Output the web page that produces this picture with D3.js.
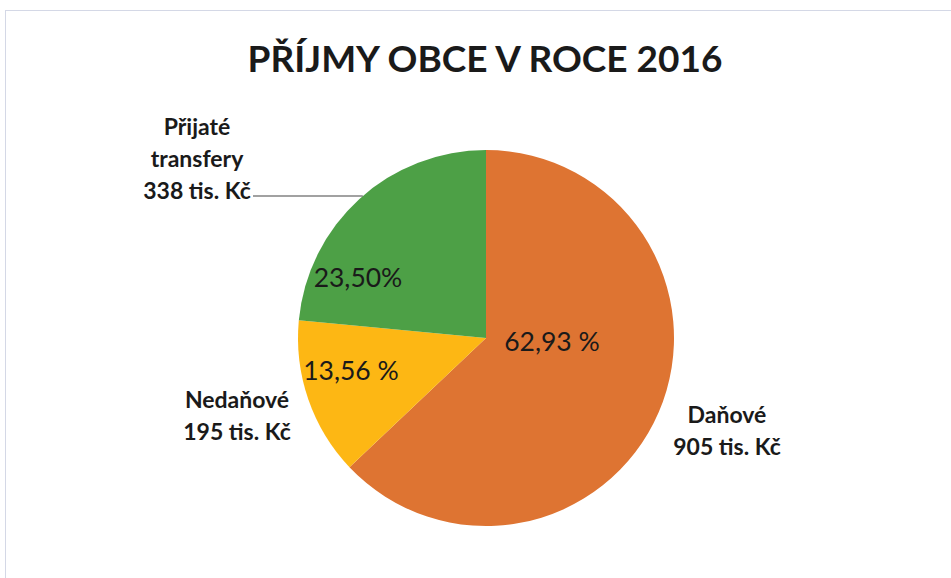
<!DOCTYPE html>
<html>
<head>
<meta charset="utf-8">
<script src="https://cdn.jsdelivr.net/npm/d3@7"></script>
<style>
  body { margin: 0; background: #fff; }
  text { font-family: Lato, "Open Sans", sans-serif; fill: #1a1a1a; }
</style>
</head>
<body>
<svg id="chart" width="951" height="578"></svg>
<script>
// data
const categories = ["Daňové", "Nedaňové", "Přijaté transfery"];
const amounts = [905, 195, 338];            // tis. Kč
const percentLabels = ["62,93 %", "13,56 %", "23,50%"];
const nameLines = [["Daňové", "905 tis. Kč"], ["Nedaňové", "195 tis. Kč"], ["Přijaté", "transfery", "338 tis. Kč"]];
const colors = ["#DE7432", "#FDB714", "#4DA046"];

const svg = d3.select("#chart");
const cx = 486, cy = 338, r = 188;

// faint scan border
svg.append("rect")
    .attr("x", 5.5).attr("y", 10.5)
    .attr("width", 960).attr("height", 600)
    .attr("fill", "none")
    .attr("stroke", "#d4d8e6")
    .attr("stroke-width", 1);

svg.append("text")
    .attr("x", 485).attr("y", 72)
    .attr("text-anchor", "middle")
    .style("font-size", "37px")
    .style("font-weight", "bold")
    .text("PŘÍJMY OBCE V ROCE 2016");

const pie = d3.pie().sort(null).value(d => d);
const arcs = pie(amounts);
const arc = d3.arc().innerRadius(0).outerRadius(r);

const g = svg.append("g").attr("transform", `translate(${cx},${cy})`);
g.selectAll("path.slice")
    .data(arcs)
    .join("path")
    .attr("class", "slice")
    .attr("d", arc)
    .attr("fill", (d, i) => colors[i]);

// percent labels inside the slices (layout offsets from centre)
const pctPos = [[66, 4], [-135, 33], [-128, -60]];
g.selectAll("text.pct")
    .data(arcs)
    .join("text")
    .attr("class", "pct")
    .attr("x", (d, i) => pctPos[i][0])
    .attr("y", (d, i) => pctPos[i][1])
    .attr("text-anchor", "middle")
    .attr("dy", "0.35em")
    .style("font-size", "26.5px")
    .text((d, i) => percentLabels[i]);

// category labels outside
const namePos = [[727, 415], [237, 400], [197, 127]];
categories.forEach((c, i) => {
    const t = svg.append("text")
        .attr("text-anchor", "middle")
        .style("font-size", "23px")
        .style("font-weight", "bold");
    nameLines[i].forEach((line, j) => {
        t.append("tspan")
            .attr("x", namePos[i][0])
            .attr("y", namePos[i][1] + j * 32)
            .attr("dy", "0.35em")
            .text(line);
    });
});

// leader line for the transfers label, ending on the pie rim
const ly = 196;
svg.append("line")
    .attr("x1", 253).attr("y1", ly)
    .attr("x2", cx - Math.sqrt(r * r - (ly - cy) * (ly - cy))).attr("y2", ly)
    .attr("stroke", "#444")
    .attr("stroke-width", 1.2);
</script>
</body>
</html>
